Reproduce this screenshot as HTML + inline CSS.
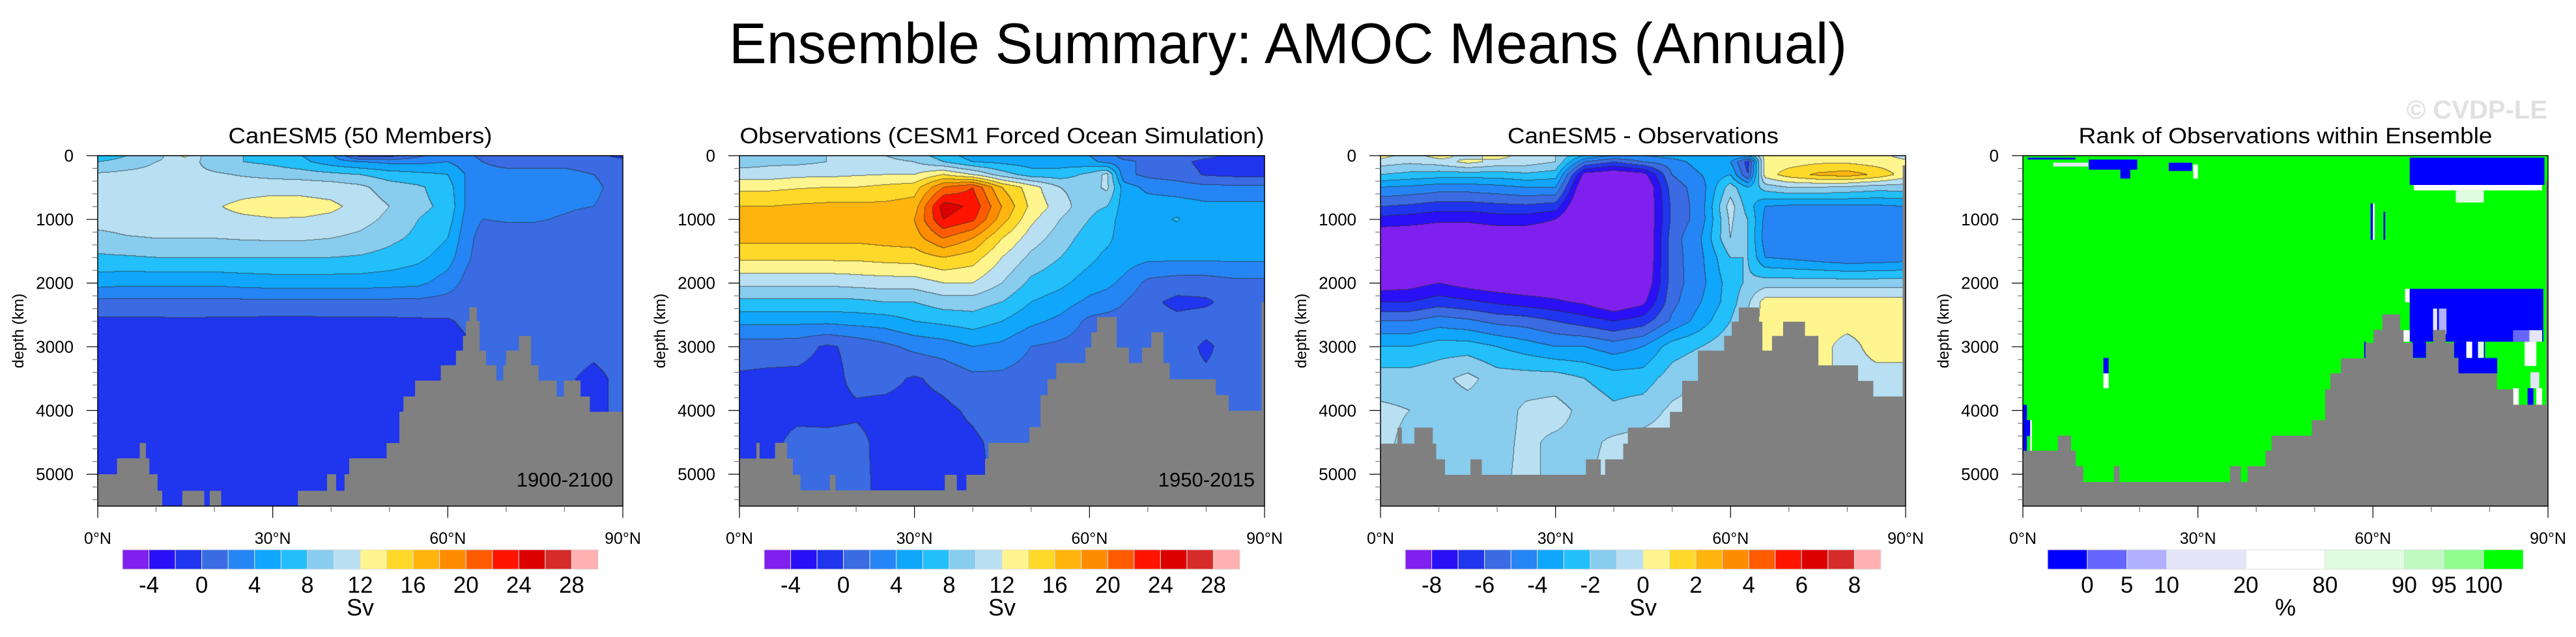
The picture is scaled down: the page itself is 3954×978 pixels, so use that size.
<!DOCTYPE html>
<html><head><meta charset="utf-8">
<style>
html,body{margin:0;padding:0;background:#fff;}
#wrap{position:relative;width:3954px;height:978px;overflow:hidden;font-family:"Liberation Sans",sans-serif;}
canvas{position:absolute;}
svg{position:absolute;left:0;top:0;}
</style></head>
<body>
<div id="wrap">
<canvas id="c0" width="806" height="538" style="left:150px;top:239px"></canvas>
<canvas id="c1" width="806" height="538" style="left:1135px;top:239px"></canvas>
<canvas id="c2" width="806" height="538" style="left:2119px;top:239px"></canvas>
<svg id="s" width="3954" height="978" xmlns="http://www.w3.org/2000/svg">
<text x="1977" y="97" font-size="88" text-anchor="middle" textLength="1716" lengthAdjust="spacingAndGlyphs" font-family="Liberation Sans, sans-serif">Ensemble Summary: AMOC Means (Annual)</text>
<text x="3910" y="182" font-size="40" font-weight="bold" fill="#e0e0e0" text-anchor="end" font-family="Liberation Sans, sans-serif">© CVDP-LE</text>
</svg>
</div>
<script>
// ---------- grid ----------
const LATS=[0,5,10,15,20,25,30,35,40,45,50,55,60,63,66,70,75,80,85,90];
const DEPS=[0,100,300,500,800,1000,1300,1600,2000,2300,2600,3000,3500,4000,4500,5000,5500];
// ---------- panel 1: CanESM5 mean (Sv) ----------
const canesmVals=[
[6,8,9,12.5,8,8,7,6,4.5,-1,-1,1.5,3,2.5,1.5,1.2,1.2,1.2,1,-1],
[8,9,10,11,9,8,7.5,6.5,5,4,3.5,3.5,4,3,2,1.5,1.5,1.5,1.2,1],
[10.3,10.5,10.6,10.5,10.3,9.8,9.3,9,8.5,8,7,6.5,6,4,2.5,2.5,2.5,2.5,2,1],
[11,11,11,11,11,11.2,11.4,11.4,11.2,10.5,9,8.3,7,4,2.5,2.5,2.5,2.5,2.5,1],
[11.5,11.5,11.5,11.7,11.8,12.5,12.8,12.7,12.4,11.4,10,8.5,7.5,4,2.5,2.5,2.5,2.3,2,1],
[11,11.2,11.3,11.4,11.5,11.7,11.9,11.9,11.6,10.8,9.5,8,7,3.5,2,2.2,2.2,1.8,1.2,1],
[9.2,9.8,10,10,10,10.2,10.3,10.3,10,9.5,8.5,7.5,6,3,1,1,1,1,1,1],
[7.7,7.8,8,8,8,8,8,8,8,7.8,7.3,6.5,5,2.5,1,1,1,1,1,1],
[4.8,4.5,4.5,4.5,4.5,4.8,5,5,5,5,4.8,4.5,3,1.5,1,1,1,1,1,1],
[1.5,1.5,1.5,1.5,1.5,1.5,1.5,1.5,1.5,1.5,1.5,1.5,1.2,0.8,0.8,1,1,1,1,1],
[-0.4,-0.4,-0.4,-0.3,-0.4,-0.4,-0.5,-0.5,-0.4,-0.4,-0.4,-0.3,-0.2,0.3,0.5,0.8,0.8,0.6,0.5,0.5],
[-1,-1,-1,-1,-1,-1,-1,-1,-1,-1,-1,-1,-0.8,-0.3,0.6,0.8,0.8,0.5,0.3,0.5],
[-1,-1,-1,-1,-1,-1,-1,-1,-1,-1,-1,-1,-1,0.4,0.5,0.6,0.5,0.2,-0.3,0.3],
[-0.5,-1,-1,-1,-1,-1,-1,-1,-1,-1,-1,-1,-1,0.4,0.5,0.6,0.5,0.2,-0.3,0.3],
[-0.5,-1,-1,-1,-1,-1,-1,-1,-1,-1,-1,-1,-1,0.4,0.5,0.6,0.5,0.2,-0.3,0.3],
[-0.5,-1,-1,-1,-1,-1,-1,-1,-1,-1,-1,-1,-1,0.4,0.5,0.6,0.5,0.2,-0.3,0.3],
[-0.5,-1,-1,-1,-1,-1,-1,-1,-1,-1,-1,-1,-1,0.4,0.5,0.6,0.5,0.2,-0.3,0.3]];
// ---------- panel 2: observations (Sv) ----------
const obsVals=[
[8,9,9,10,11,10,9,7,5,5,5,5,4,3,1,1,1,0.5,-0.5,-0.5],
[9,9.5,9.5,10,10.5,10.5,10,8,6,5.5,5,5,4.5,3.5,2.5,1.5,0.5,-0.5,-0.5,-0.5],
[11,11,11.5,11.5,11.8,12,12,14,12,9,7,7,8.5,10.5,2.5,1.5,1,-0.2,-0.5,-0.5],
[13.5,13.5,13.8,14,14,14.5,15,20,22,16,13,10,9,10.5,5,3.5,3,2.5,2.5,2.5],
[16,16,16.3,16.5,16.5,16.5,17,25,23.5,18,13.5,11,8.5,8,5,5,5,4.5,4.5,4.5],
[17,17,17,17,17,17,18,24,22.5,17,12.5,10,8,7,5,5,6.2,4.5,4.5,4.5],
[16.5,16.5,16.5,16.5,16.5,16.8,17,20,18,14,11,9,7,6.5,5,4.8,4.8,4.8,4.8,4.8],
[14.5,14.5,14.5,14.5,14.5,14.8,15,16,15,12,9.5,8,6.5,5.5,5,4.5,4.5,4.5,4.5,4.5],
[10.5,10.5,10.5,10.5,10.8,11,11,12,12,10,7.5,6.5,5,4.5,3.5,1.5,1,1,1.5,1.5],
[7.5,7.5,7.5,7.5,7.5,8,8,9,9,8,6,5,3.5,3,2,0.5,-0.5,-0.3,0.8,0.5],
[4.5,4.5,4.5,4.5,4.8,5,6,6.5,7,6,4.5,3.5,1.5,1.2,1.2,0.8,0.5,0.8,0.8,0.8],
[1,1,0.8,-0.3,0.5,1.5,2.5,3,4,3.5,2,1.5,1,1,0.8,0.8,0.8,-0.3,0.8,0.8],
[-0.3,-0.5,-0.5,-0.8,0.5,0.5,-0.2,0.5,1.5,1.5,1,1,0.8,0.8,0.8,0.5,0.3,0.3,0.5,0.5],
[-0.6,-0.6,-0.5,-0.6,-0.3,-0.5,-0.6,-0.4,0.3,1,1,1,1,1,1,1,1,1,1,1],
[-0.6,-0.5,0.5,0.5,0.5,-0.6,-0.6,-0.6,-0.3,0.5,1,1,1,1,1,1,1,1,1,1],
[-0.6,-0.5,0.5,0.5,0.5,-0.5,-0.6,-0.6,-0.5,0.5,1,1,1,1,1,1,1,1,1,1],
[-0.6,-0.5,0.5,0.5,0.5,-0.5,-0.6,-0.6,-0.5,0.5,1,1,1,1,1,1,1,1,1,1]];
// ---------- panel 3: CanESM5 - observations (Sv) ----------
const diffVals=[
[0.5,-0.5,0.5,-0.5,0.5,-0.5,-1,-3,-4,-4,-3.5,-3,-3,-3,0.5,0.5,0.5,0.5,0.5,-0.5],
[-0.5,-0.8,-0.5,0.3,-0.3,-0.5,-1,-5,-6,-5,-4.5,-3.5,-4,-6.5,0.5,0.5,0.8,0.8,0.5,0.3],
[-2,-2.3,-2.5,-2.5,-2.5,-2.2,-2.5,-8.5,-9,-8.5,-5,-4,-3,-6,0.5,1.5,2.2,2.5,1.8,0.5],
[-4,-4.2,-4.5,-4.5,-4.3,-4,-4,-9.5,-9.5,-9.5,-5.5,-4.5,-1.5,-3,-1.5,-1,-1,-1.2,-1.5,-1.5],
[-6,-6.2,-6.5,-6.5,-6.3,-6.2,-6.5,-10,-10,-9.5,-5.8,-4.5,-0.5,-2.5,-4,-4.2,-4.2,-4.2,-4.2,-4],
[-7.3,-7.5,-7.8,-7.8,-7.5,-7.5,-8,-10,-10,-9.5,-5.8,-4.5,-0.8,-2,-4.3,-4.5,-4.5,-4.5,-4.5,-4.3],
[-9,-9,-9,-9,-9,-9,-9,-10,-10,-9.5,-5.5,-4,-1,-2,-4.5,-4.5,-4.6,-4.8,-4.8,-4.5],
[-9.5,-9.5,-9.5,-9.5,-9.5,-9.5,-9.5,-10,-10,-9.5,-5.5,-4.2,-2,-2,-4,-4.2,-4.5,-4.8,-4.7,-4.5],
[-8.7,-8.5,-8,-8.5,-8.8,-9,-9,-9.5,-10,-9.2,-5.5,-4.3,-2.5,-1.8,-1.5,-1.5,-1.5,-1.5,-1.5,-1.5],
[-7,-7,-6.5,-6.8,-7.2,-7.5,-7.8,-8.2,-9,-8.3,-5.3,-4,-2.5,-1.2,0.5,0.5,0.5,0.5,0.5,0.5],
[-5,-5,-4.5,-4.8,-5.3,-5.5,-6,-6.5,-7,-6.5,-4.8,-3.5,-2,-0.8,0.5,0.5,0.5,0.5,0.5,0.5],
[-3,-3,-2.5,-2.5,-3,-3.5,-4,-4,-4.5,-4,-2.5,-2,-1.2,-0.5,0.5,0.5,0.5,-0.5,0.5,0.5],
[-1.5,-1.5,-1.3,-0.7,-1.5,-1.5,-1.5,-2,-2.5,-2.5,-1.5,-1,-0.5,-0.5,0.5,0.5,0.5,-0.5,-0.5,-0.5],
[-0.8,-1,-1.5,-1.5,-1.5,-0.8,-0.6,-1.3,-1.8,-1.5,-0.8,-0.5,-0.5,-0.5,-0.5,-0.5,-0.5,-0.5,-0.5,-0.5],
[-0.8,-1.2,-1.5,-1.5,-1.3,-0.8,-1.2,-1.3,-0.8,-0.6,-0.5,-0.5,-0.5,-0.5,-0.5,-0.5,-0.5,-0.5,-0.5,-0.5],
[-0.8,-1.2,-1.5,-1.5,-1.2,-0.8,-1.2,-1.2,-0.6,-0.5,-0.5,-0.5,-0.5,-0.5,-0.5,-0.5,-0.5,-0.5,-0.5,-0.5],
[-0.8,-1.2,-1.5,-1.5,-1.2,-0.8,-1.2,-1.2,-0.6,-0.5,-0.5,-0.5,-0.5,-0.5,-0.5,-0.5,-0.5,-0.5,-0.5,-0.5]];
// ---------- panel 4: rank patches [lat0, lat1, depth0, depth1, category] on green (cat 8) ----------
const rankPatches=[
[0.8,9,30,60,0],[11.3,19.6,60,220,0],[5.2,11.2,110,170,3],[16.7,18.4,220,360,0],[25,29,110,240,0],[29.2,30,140,360,4],
[66.3,89.4,30,460,0],[67,89,460,545,4],[74.2,79,545,735,5],
[59.6,60,750,1320,0],[60,60.3,750,1320,4],[61.8,62.1,880,1320,0],
[65.5,66.3,2090,2300,4],[66.3,89.2,2090,2920,0],[70.3,71,2400,2800,3],[71.3,72.6,2400,2800,2],
[66.7,69.1,2920,3175,0],[73.9,79.2,2920,3175,0],[76,77,2920,3175,4],[78,79,2920,3175,5],
[74.6,81.3,3175,3420,0],[84,86.8,2740,2920,1],[86.8,89,2740,2920,3],[86,88,2920,3300,4],[87,88.5,3400,3650,3],
[84,85,3650,3910,4],[86.5,87.5,3650,3910,0],[88,89,3650,3910,4],
[0,0.7,3910,4630,0],[0.7,1.25,4150,4400,0],[1.25,1.55,4150,4630,4],
[13.8,14.7,3175,3418,0],[13.8,14.7,3418,3650,4],[58.5,58.8,2920,3175,0],[65,66.3,2740,2920,4]];
// ---------- topography: segment end latitude, bottom-top depth ----------
const topoEnd0=[3.3,7.2,8.2,8.8,10.2,11,14.5,18.2,19.2,21.1,34.3,39.3,40.8,42.3,43.1,49.5,51.7,52.4,54.4,58.8,61.4,62.6,63.1,63.7,64.9,65.4,66.5,68.3,69.5,70,72.2,74.2,75.5,78.6,79.9,82.7,84.3,90];
const topoDep0=[5000,4750,4510,4750,5000,5260,5500,5260,5500,5260,5500,5260,5000,5260,5000,4750,4510,4020,3780,3530,3290,3060,2830,2600,2380,2600,3060,3290,3530,3290,3060,2830,3290,3530,3780,3530,3780,4020];
const topoEnd1=[2.9,3.4,6.1,8.1,9.1,10.4,15.5,16.4,35.2,37.2,38.9,42.1,42.7,49.7,51.6,52.8,54.3,59.3,60.3,61.3,64.6,66.7,69,70.6,72.6,73.7,81.6,83.8,89.5,90];
const topoDep1=[4754,4507,4754,4507,4754,5009,5253,5009,5253,5009,5253,5009,4754,4507,4260,3757,3509,3255,3011,2772,2533,3011,3255,3011,2772,3255,3509,3757,4004,2300];
const topoEnd2=[2.9,3.6,5.8,8.9,9.5,11,15.4,17.3,35.2,37.7,38.5,41.6,42.4,49.6,51.7,54.4,58.9,60.2,61.4,64.8,65.4,67.1,69,72.7,75,81.8,84.4,89.5,90];
const topoDep2=[4520,4268,4520,4268,4520,4767,5009,4767,5009,4767,5009,4767,4520,4268,4021,3535,3060,2829,2606,2383,2606,3060,2829,2606,2829,3291,3535,3780,150];
const topoEnd3=[6,8.2,9,10.3,15.6,16.5,35.5,37.3,38.5,41.6,42.6,49.5,51.8,52.7,54.5,58.7,60.1,61.6,64.6,65.2,66.8,69.1,70.3,72.4,73.8,74.6,81.2,84,89.7,90];
const topoDep3=[4631,4395,4631,4874,5123,4874,5123,4874,5123,4874,4631,4395,4152,3667,3417,3181,2938,2734,2491,2734,2938,3181,2938,2734,2938,3181,3417,3667,3909,400];
// ---------- levels / labels ----------
const levelsSv=[-4,-2,0,2,4,6,8,10,12,14,16,18,20,22,24,26,28];
const levelsDiff=[-8,-7,-6,-5,-4,-3,-2,-1,0,1,2,3,4,5,6,7,8];
const cbLabelsSv=["-4","0","4","8","12","16","20","24","28"];
const cbLabelsDiff=["-8","-6","-4","-2","0","2","4","6","8"];
const rankLabels=["0","5","10","20","80","90","95","100"];
const rankUnits=[1,1,1,2,2,2,1,1,1];
const panelTitles=["CanESM5 (50 Members)","Observations (CESM1 Forced Ocean Simulation)","CanESM5 - Observations","Rank of Observations within Ensemble"];
const titleWidths=[405,805,416,635];
const yTicks=[0,1000,2000,3000,4000,5000];
const xTicks=[0,30,60,90];

const COLORS=["#8020ee","#2a10f6","#1f35ee","#3a6be2","#2585f5","#0fa6fb","#22bffa","#88ccee","#b8e0f2","#fff58f","#ffd92a","#ffb50d","#ff8c00","#ff5c00","#ff1400","#dd0000","#d52b2b","#ffb0b0"];
const RANKCOL=["#0000ff","#6666ff","#b0b0ff","#e5e5fa","#ffffff","#e0fce0","#c0fac0","#90fc90","#00ff00"];
const PL=[150,1135,2119,3105], PT=239, PW=806, PH=538;
const NS="http://www.w3.org/2000/svg";
const svg=document.getElementById('s');
function xs(p,lat){return PL[p]+lat/90*PW;}
function ys(d){return PT+d/5500*PH;}
function mk(tag,attrs,parent){const e=document.createElementNS(NS,tag);for(const k in attrs)e.setAttribute(k,attrs[k]);(parent||svg).appendChild(e);return e;}
function hex(c){return [parseInt(c.substr(1,2),16),parseInt(c.substr(3,2),16),parseInt(c.substr(5,2),16)];}
const RGB=COLORS.map(hex);

function seg(arr,v){let i=0;while(i<arr.length-2&&v>arr[i+1])i++;return [i,(v-arr[i])/(arr[i+1]-arr[i])];}
function drawField(p,vals,levels){
  const cv=document.getElementById('c'+p),ctx=cv.getContext('2d');
  const img=ctx.createImageData(PW,PH),dat=img.data;
  const idx=new Int8Array(PW*PH);
  const cx=[],cy=[];
  for(let px=0;px<PW;px++){const lat=(xs(p,0)+px+0.5-PL[p])/PW*90;cx.push(seg(LATS,lat));}
  for(let py=0;py<PH;py++){const d=(py+0.5)/PH*5500;cy.push(seg(DEPS,d));}
  for(let py=0;py<PH;py++){const [j,ty]=cy[py];
    for(let px=0;px<PW;px++){const [i,tx]=cx[px];
      const v=(1-ty)*((1-tx)*vals[j][i]+tx*vals[j][i+1])+ty*((1-tx)*vals[j+1][i]+tx*vals[j+1][i+1]);
      let k=0;while(k<levels.length&&v>=levels[k])k++;
      idx[py*PW+px]=k;}}
  for(let py=0;py<PH;py++)for(let px=0;px<PW;px++){
    const q=py*PW+px,k=idx[q];let c=RGB[k];let edge=(px<PW-1&&idx[q+1]!==k)||(py<PH-1&&idx[q+PW]!==k);
    const o=q*4;
    if(edge){dat[o]=c[0]*0.3+30;dat[o+1]=c[1]*0.3+30;dat[o+2]=c[2]*0.3+30;}
    else{dat[o]=c[0];dat[o+1]=c[1];dat[o+2]=c[2];}
    dat[o+3]=255;}
  ctx.putImageData(img,0,0);
}
drawField(0,canesmVals,levelsSv);
drawField(1,obsVals,levelsSv);
drawField(2,diffVals,levelsDiff);

// panel 4 rank cells
const g4=mk('g',{});


const base=mk('rect',{x:xs(3,0),y:ys(0),width:xs(3,90)-xs(3,0),height:ys(5500)-ys(0),fill:RANKCOL[8]},g4);


rankPatches.forEach(r=>{
  const e=mk('rect',{x:xs(3,r[0]),y:ys(r[2]),width:xs(3,r[1])-xs(3,r[0]),height:ys(r[3])-ys(r[2]),fill:RANKCOL[r[4]]},g4);
  
  
});

// topography
const TOPO=[[topoEnd0,topoDep0],[topoEnd1,topoDep1],[topoEnd2,topoDep2],[topoEnd3,topoDep3]];
TOPO.forEach((t,p)=>{
  let prev=0;
  t[0].forEach((end,i)=>{
    const e=mk('rect',{x:xs(p,prev),y:ys(t[1][i]),width:xs(p,end)-xs(p,prev)+0.5,height:ys(5500)-ys(t[1][i]),fill:'#808080'});
    
    
    prev=end;
  });
});

// axes, titles, colorbars
for(let p=0;p<4;p++){
  const fr=mk('rect',{x:PL[p],y:PT,width:PW,height:PH,fill:'none',stroke:'#000','stroke-width':1.5});
  
  
  const t=mk('text',{x:PL[p]+PW/2,y:220,'font-size':34,'text-anchor':'middle',textLength:titleWidths[p],lengthAdjust:'spacingAndGlyphs','font-family':'Liberation Sans, sans-serif'});
  t.textContent=panelTitles[p];
  
  
  for(let d=0;d<=5400;d+=200){
    const major=yTicks.indexOf(d)>=0;
    const l=mk('line',{x1:PL[p]-(major?17:8),x2:PL[p],y1:ys(d),y2:ys(d),stroke:major?'#000':'#777','stroke-width':1.2});
    
    
  }
  yTicks.forEach(d=>{
    const tx=mk('text',{x:PL[p]-37,y:ys(d)+9,'font-size':26,'text-anchor':'end','font-family':'Liberation Sans, sans-serif'});
    tx.textContent=String(d);
    
    
  });
  const yl=mk('text',{x:0,y:0,'font-size':24,'text-anchor':'middle','font-family':'Liberation Sans, sans-serif',transform:`translate(${PL[p]-114},${PT+PH/2}) rotate(-90)`});
  yl.textContent='depth (km)';
  
  
  for(let lat=0;lat<=90;lat+=10){
    const major=xTicks.indexOf(lat)>=0;
    const l=mk('line',{x1:xs(p,lat),x2:xs(p,lat),y1:PT+PH,y2:PT+PH+(major?18:9),stroke:major?'#000':'#777','stroke-width':1.2});
    
    
  }
  xTicks.forEach(lat=>{
    const tx=mk('text',{x:xs(p,lat),y:835,'font-size':25,'text-anchor':'middle','font-family':'Liberation Sans, sans-serif'});
    tx.textContent=lat+'°N';
    
    
  });
  // colorbar
  const cbL=PL[p]+38,cbW=730,cbT=844,cbH=30;
  if(p<3){
    const bw=cbW/18;
    COLORS.forEach((c,i)=>{
      const r=mk('rect',{x:cbL+i*bw,y:cbT,width:bw,height:cbH,fill:c,stroke:'#ddd','stroke-width':1});
      
      
    });
    const labs=p<2?cbLabelsSv:cbLabelsDiff;
    labs.forEach((s,i)=>{
      const tx=mk('text',{x:cbL+(1+2*i)*bw,y:910,'font-size':35,'text-anchor':'middle','font-family':'Liberation Sans, sans-serif'});
      tx.textContent=s;
      
      
    });
  } else {
    const u=cbW/12;let pos=0;
    RANKCOL.forEach((c,i)=>{
      const r=mk('rect',{x:cbL+pos*u,y:cbT,width:rankUnits[i]*u,height:cbH,fill:c,stroke:'#ddd','stroke-width':1});
      
      
      pos+=rankUnits[i];
    });
    pos=0;
    rankLabels.forEach((s,i)=>{
      pos+=rankUnits[i];
      const tx=mk('text',{x:cbL+pos*u,y:910,'font-size':35,'text-anchor':'middle','font-family':'Liberation Sans, sans-serif'});
      tx.textContent=s;
      
      
    });
  }
  const un=mk('text',{x:cbL+cbW/2,y:945,'font-size':36,'text-anchor':'middle','font-family':'Liberation Sans, sans-serif'});
  un.textContent=p<3?'Sv':'%';
  
  
}
const periods=['1900-2100','1950-2015'];
periods.forEach((s,p)=>{
  const tx=mk('text',{x:PL[p]+PW-15,y:747,'font-size':31,'text-anchor':'end','font-family':'Liberation Sans, sans-serif'});
  tx.textContent=s;
  
  
});
</script>
</body></html>
